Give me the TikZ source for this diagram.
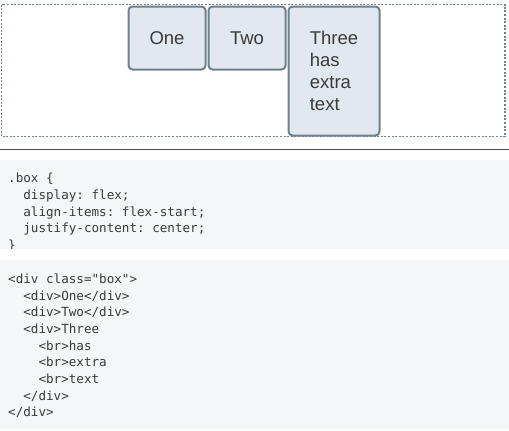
\documentclass[tikz,border=0pt]{standalone}
\usepackage{fontspec}
\setmainfont{Liberation Sans}
\setmonofont{DejaVu Sans Mono}
\usepackage{xcolor}
\usetikzlibrary{positioning}
\definecolor{itemfill}{HTML}{E1E8EF}
\definecolor{itemline}{HTML}{6F808C}
\definecolor{codebg}{HTML}{F5F6F7}
\definecolor{inktext}{HTML}{3A3A3A}
\definecolor{rulegrey}{HTML}{4A4A4A}
\newlength\codech
\setlength\codech{7.585pt}
\newcommand{\ind}[1]{\hspace*{#1\codech}}

\begin{document}
\begin{tikzpicture}[x = 1pt, y = -1pt]
	\tikzstyle{flexitem} = [draw = itemline, fill = itemfill, line width = 2pt, rounded corners = 4pt, inner sep = 0pt, text = inktext, font = \fontsize{18.5}{22}\selectfont]
	\tikzstyle{codeline} = [anchor = base west, align = left, inner sep = 0pt, text = inktext, font = \ttfamily\fontsize{12.6}{16.7}\selectfont]
\useasboundingbox (0, 0) rectangle (509, 431);

	\path[draw = itemline, line width = 1.6pt, dash pattern = on 2pt off 1.6pt] (1.5, 4.5) rectangle (505, 136.5);
\node[flexitem, minimum width = 77, minimum height = 63] (one) at (167, 38) {One};
\node[flexitem, minimum width = 77, minimum height = 63] (two) at (247, 38) {Two};
\node[flexitem, minimum width = 91, minimum height = 129, align = left] (three) at (334, 71) {Three\\has\\extra\\text};

	\path[draw = rulegrey, line width = 1pt] (0, 149) -- (509, 149);

	\path[fill = codebg] (0, 160) rectangle (509, 248.5);
	\path[fill = codebg] (0, 260) rectangle (509, 429);
\begin{scope}
	\clip (0, 160) rectangle (509, 248.5);
\node[codeline] (css) at (8, 249.5) {.box \{\\
\ind{2}display: flex;\\
\ind{2}align-items: flex-start;\\
\ind{2}justify-content: center;\\
\}};
\end{scope}
\node[codeline] (html) at (8, 416.9) {<div class="box">\\
\ind{2}<div>One</div>\\
\ind{2}<div>Two</div>\\
\ind{2}<div>Three\\
\ind{4}<br>has\\
\ind{4}<br>extra\\
\ind{4}<br>text\\
\ind{2}</div>\\
</div>};
\end{tikzpicture}
\end{document}
